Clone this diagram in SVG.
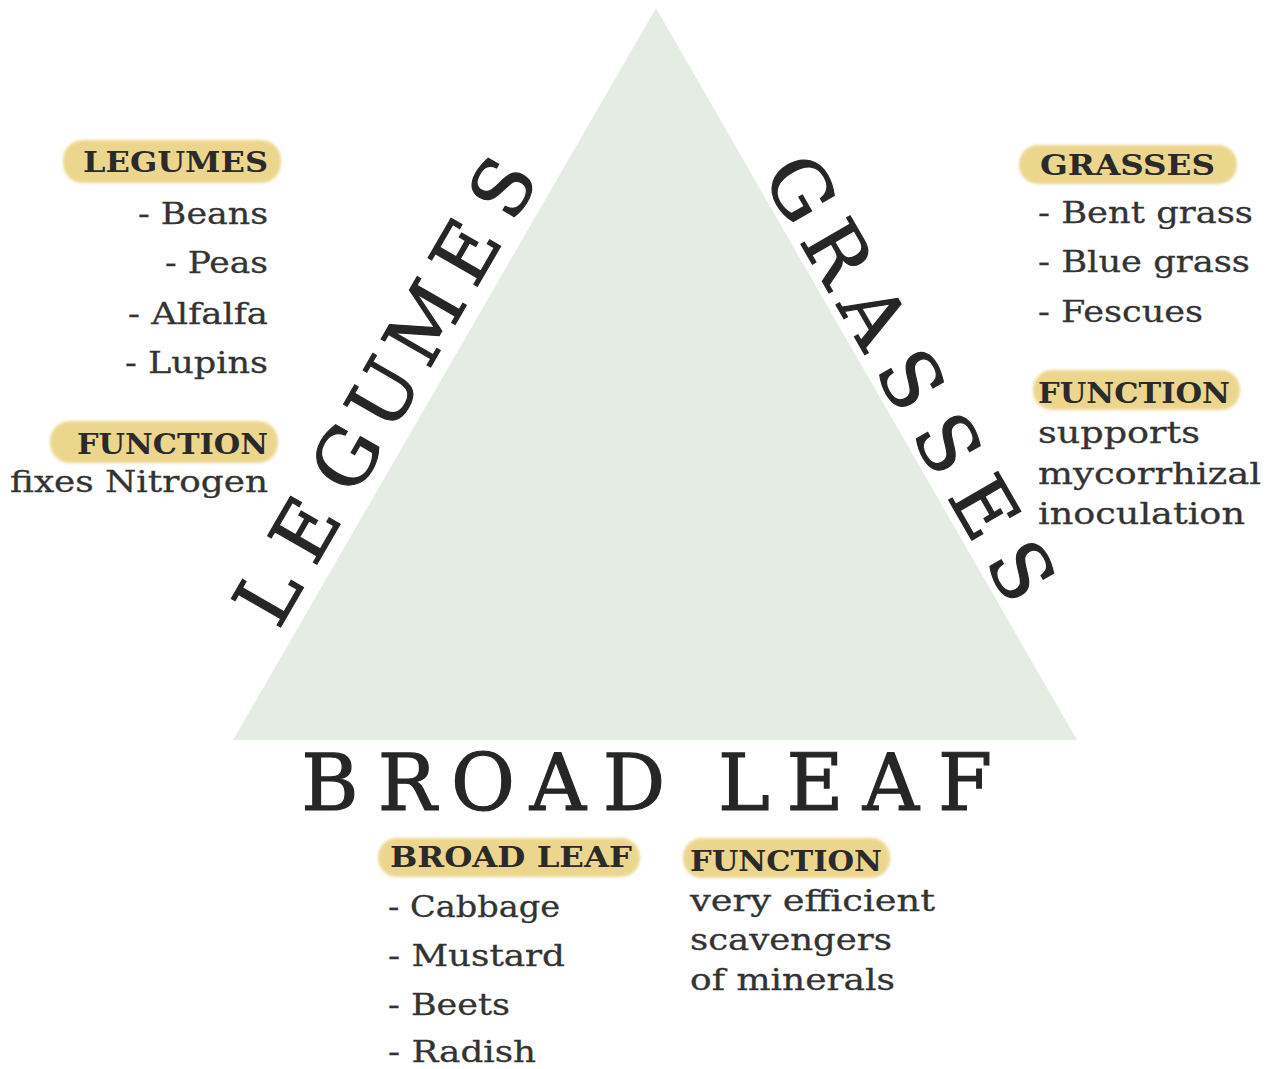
<svg xmlns="http://www.w3.org/2000/svg" width="1275" height="1069" viewBox="0 0 1275 1069">
<defs>
<filter id="soft" x="-10%" y="-30%" width="120%" height="160%">
<feGaussianBlur stdDeviation="1.6"/>
</filter>
</defs>
<style>
.big{font-family:"DejaVu Serif","Liberation Serif",serif;font-size:78px;fill:#262626;stroke:#262626;stroke-width:1.2;text-anchor:middle}
.hd{font-family:"DejaVu Serif","Liberation Serif",serif;font-size:28px;font-weight:bold;fill:#2a2a2a}
.tx{font-family:"DejaVu Serif","Liberation Serif",serif;font-size:30px;fill:#333333;stroke:#333333;stroke-width:0.3}
.hl{fill:#ecd68e;filter:url(#soft)}
</style>
<rect x="0" y="0" width="1275" height="1069" fill="#ffffff"/>
<g id="triangle">
<polygon points="656,8 1077,740 233,740" fill="#e5ece4"/>
</g>
<g id="legumes-side">
<text class="big" transform="rotate(-60)" x="-381 -306 -223 -149 -67 15 89" y="556.5">LEGUMES</text>
</g>
<g id="grasses-side">
<text class="big" transform="rotate(60)" x="563.5 637 710.7 784.3 857.9 931.5 1005" y="-571.5">GRASSES</text>
</g>
<g id="broadleaf-side">
<text class="big" x="330 407 483 558 634 690 744 815 891 965" y="810">BROAD LEAF</text>
</g>
<g id="legumes-list">
<rect class="hl" x="63" y="140" width="218" height="43" rx="20"/>
<text class="hd" x="83" y="172" textLength="185" lengthAdjust="spacingAndGlyphs">LEGUMES</text>
<text class="tx" x="138" y="224" textLength="130" lengthAdjust="spacingAndGlyphs">- Beans</text>
<text class="tx" x="165" y="273" textLength="103" lengthAdjust="spacingAndGlyphs">- Peas</text>
<text class="tx" x="128" y="324" textLength="140" lengthAdjust="spacingAndGlyphs">- Alfalfa</text>
<text class="tx" x="125" y="373" textLength="143" lengthAdjust="spacingAndGlyphs">- Lupins</text>
</g>
<g id="legumes-function">
<rect class="hl" x="50" y="421" width="228" height="42" rx="20"/>
<text class="hd" x="77" y="454" textLength="191" lengthAdjust="spacingAndGlyphs">FUNCTION</text>
<text class="tx" x="10" y="492" textLength="258" lengthAdjust="spacingAndGlyphs">fixes Nitrogen</text>
</g>
<g id="grasses-list">
<rect class="hl" x="1019" y="145" width="218" height="39" rx="19"/>
<text class="hd" x="1040" y="175" textLength="175" lengthAdjust="spacingAndGlyphs">GRASSES</text>
<text class="tx" x="1038" y="223" textLength="215" lengthAdjust="spacingAndGlyphs">- Bent grass</text>
<text class="tx" x="1038" y="272" textLength="212" lengthAdjust="spacingAndGlyphs">- Blue grass</text>
<text class="tx" x="1038" y="322" textLength="165" lengthAdjust="spacingAndGlyphs">- Fescues</text>
</g>
<g id="grasses-function">
<rect class="hl" x="1033" y="370" width="207" height="40" rx="19"/>
<text class="hd" x="1038" y="403" textLength="192" lengthAdjust="spacingAndGlyphs">FUNCTION</text>
<text class="tx" x="1038" y="443" textLength="162" lengthAdjust="spacingAndGlyphs">supports</text>
<text class="tx" x="1038" y="484" textLength="223" lengthAdjust="spacingAndGlyphs">mycorrhizal</text>
<text class="tx" x="1038" y="524" textLength="207" lengthAdjust="spacingAndGlyphs">inoculation</text>
</g>
<g id="broadleaf-list">
<rect class="hl" x="378" y="838" width="262" height="39" rx="19"/>
<text class="hd" x="390" y="867" textLength="242" lengthAdjust="spacingAndGlyphs">BROAD LEAF</text>
<text class="tx" x="388" y="917" textLength="172" lengthAdjust="spacingAndGlyphs">- Cabbage</text>
<text class="tx" x="388" y="966" textLength="177" lengthAdjust="spacingAndGlyphs">- Mustard</text>
<text class="tx" x="388" y="1015" textLength="122" lengthAdjust="spacingAndGlyphs">- Beets</text>
<text class="tx" x="388" y="1062" textLength="148" lengthAdjust="spacingAndGlyphs">- Radish</text>
</g>
<g id="broadleaf-function">
<rect class="hl" x="683" y="838" width="207" height="40" rx="19"/>
<text class="hd" x="690" y="871" textLength="192" lengthAdjust="spacingAndGlyphs">FUNCTION</text>
<text class="tx" x="690" y="911" textLength="245" lengthAdjust="spacingAndGlyphs">very efficient</text>
<text class="tx" x="690" y="950" textLength="202" lengthAdjust="spacingAndGlyphs">scavengers</text>
<text class="tx" x="690" y="990" textLength="205" lengthAdjust="spacingAndGlyphs">of minerals</text>
</g>
</svg>
